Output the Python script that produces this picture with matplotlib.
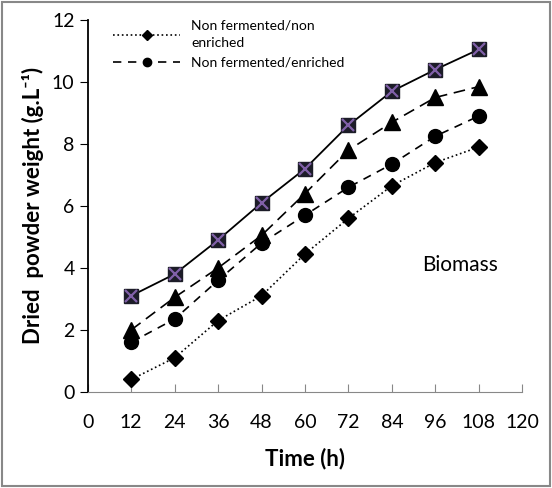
import matplotlib.pyplot as plt
from matplotlib.patches import Rectangle

plt.rcParams['font.family'] = ['Lato', 'DejaVu Sans']

time_h = [12, 24, 36, 48, 60, 72, 84, 96, 108]
nf_ne = [0.4, 1.1, 2.3, 3.1, 4.45, 5.6, 6.65, 7.4, 7.9]
nf_e = [1.6, 2.35, 3.6, 4.8, 5.7, 6.6, 7.35, 8.25, 8.9]
tri = [2.0, 3.05, 4.0, 5.05, 6.4, 7.8, 8.7, 9.5, 9.85]
sq = [3.1, 3.8, 4.9, 6.1, 7.2, 8.6, 9.7, 10.4, 11.05]
xticks = [0, 12, 24, 36, 48, 60, 72, 84, 96, 108, 120]

fig = plt.figure(figsize=(5.52, 4.88), dpi=100)
ax = fig.add_axes([0.159, 0.197, 0.787, 0.762])

ax.plot(time_h, nf_ne, color='black', linestyle=':', linewidth=1.2, marker='D',
        markersize=8, label='Non fermented/non\nenriched')
ax.plot(time_h, nf_e, color='black', linestyle=(0, (5, 4)), linewidth=1.2, marker='o',
        markersize=10, label='Non fermented/enriched')
ax.plot(time_h, tri, color='black', linestyle=(0, (7, 4)), linewidth=1.2, marker='^',
        markersize=11)
ax.plot(time_h, sq, color='black', linestyle='-', linewidth=1.3, marker='s',
        markersize=10, markerfacecolor='#1c1c28', markeredgecolor='#1c1c28')
ax.plot(time_h, sq, linestyle='none', marker='x', markersize=8,
        markeredgecolor='#8060a8', markeredgewidth=1.6)

ax.set_xlim(0, 120)
ax.set_ylim(0, 12)
ax.set_xticks(xticks)
ax.set_yticks(range(0, 13, 2))
ax.tick_params(axis='x', direction='in', length=6, color='#888888', labelsize=14, pad=16)
ax.tick_params(axis='y', direction='out', length=6, labelsize=14)
ax.spines['top'].set_visible(False)
ax.spines['right'].set_visible(False)
ax.spines['bottom'].set_color('#888888')
ax.spines['left'].set_linewidth(1.3)

ax.set_xlabel('Time (h)', fontsize=16, fontweight='bold', labelpad=12)
ax.set_ylabel('Dried  powder weight (g.L\u207b\u00b9)', fontsize=16, fontweight='bold', labelpad=6)

ax.text(0.945, 0.34, 'Biomass', transform=ax.transAxes, ha='right', va='center', fontsize=15)

leg = ax.legend(loc='upper left', bbox_to_anchor=(0.03, 1.035), frameon=False, fontsize=10,
                handlelength=4.8, markerscale=0.6, labelspacing=0.5)
for t in leg.get_texts():
    t.set_linespacing(1.6)

fig.patches.append(Rectangle((0.004, 0.004), 0.992, 0.992, transform=fig.transFigure,
                             fill=False, edgecolor='#888888', linewidth=1.5))

fig.savefig('out.png', dpi=100)
